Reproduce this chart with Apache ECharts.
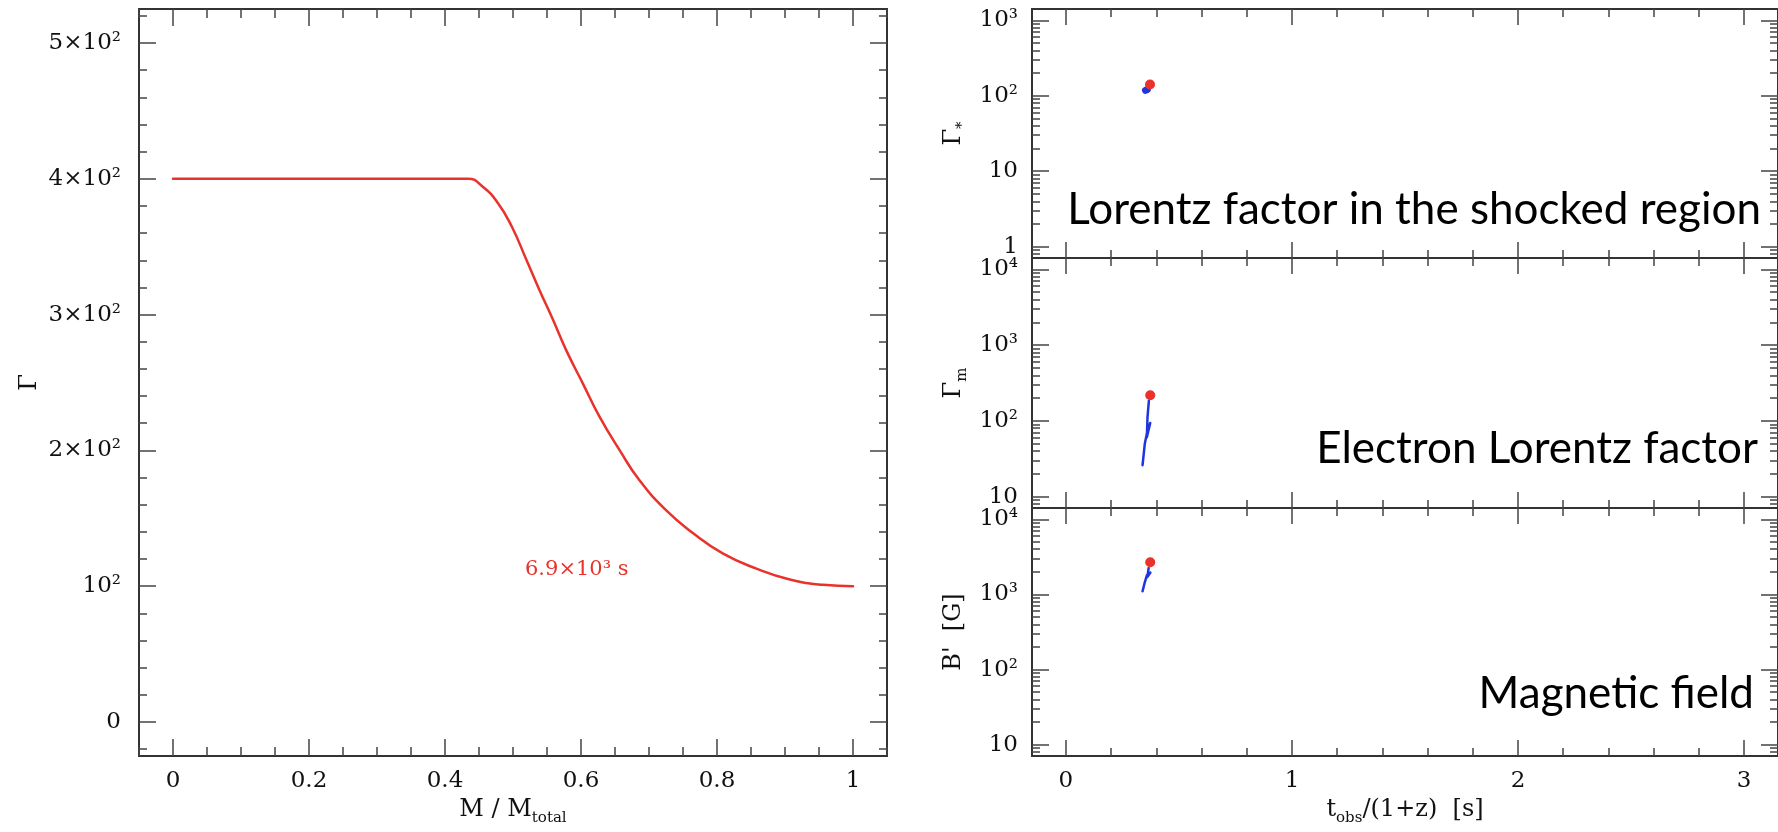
<!DOCTYPE html>
<html><head><meta charset="utf-8">
<script src="https://cdn.jsdelivr.net/npm/echarts@6/dist/echarts.min.js"></script>
<style>html,body{margin:0;padding:0;background:#fff}#c{width:1778px;height:832px}</style>
</head><body><div id="c"></div>
<script>
// ---------------- data ----------------
// Left panel: Lorentz factor of the shell vs mass coordinate
const massFrac  = [0, 0.42, 0.434, 0.456, 0.478, 0.498, 0.520, 0.539, 0.559, 0.578, 0.603, 0.627, 0.657, 0.686, 0.725, 0.765, 0.809, 0.858, 0.907, 0.956, 1.0];
const gammaVals = [400, 400, 400, 394, 382, 365, 340, 318, 296, 274, 249, 225, 200, 178, 156, 139, 124, 113, 105, 101, 100];
const leftXTicks  = [0, 0.2, 0.4, 0.6, 0.8, 1];
const leftXLabels = ['0', '0.2', '0.4', '0.6', '0.8', '1'];
const leftYTicks  = [0, 100, 200, 300, 400, 500];
const leftYLabels = ['0', '10²', '2×10²', '3×10²', '4×10²', '5×10²'];
const leftNote = '6.9×10³ s';

// Right panels: time axis
const tTicks  = [0, 1, 2, 3];
const tLabels = ['0', '1', '2', '3'];

// Panel 1: Lorentz factor in the shocked region
const shockTicks  = [1, 10, 100, 1000];
const shockLabels = ['1', '10', '10²', '10³'];
const shockT      = [0.352, 0.356, 0.360, 0.357, 0.354];
const shockGamma  = [118, 124, 121, 117, 121];
const shockEndT   = [0.372];
const shockEndG   = [141];

// Panel 2: electron Lorentz factor
const elecTicks  = [10, 100, 1000, 10000];
const elecLabels = ['10', '10²', '10³', '10⁴'];
const elecT      = [0.339, 0.349, 0.361, 0.373, 0.358, 0.361, 0.367];
const elecGamma  = [26, 50, 75, 94, 61, 113, 184];
const elecEndT   = [0.373];
const elecEndG   = [218];

// Panel 3: magnetic field
const fieldTicks  = [10, 100, 1000, 10000];
const fieldLabels = ['10', '10²', '10³', '10⁴'];
const fieldT      = [0.339, 0.349, 0.358, 0.374, 0.360, 0.366];
const fieldB      = [1100, 1450, 1800, 1950, 1700, 2250];
const fieldEndT   = [0.373];
const fieldEndB   = [2680];

const panelTexts = ['Lorentz factor in the shocked region', 'Electron Lorentz factor', 'Magnetic field'];

// ---------------- helpers ----------------
const SERIF = 'DejaVu Serif';
const AX = '#333';
const TXT = '#111';
function zip(a, b) { return a.map((v, i) => [v, b[i]]); }
function labelFor(ticks, labels) {
  return function (v) {
    for (let i = 0; i < ticks.length; i++) {
      if (Math.abs(ticks[i] - v) <= 1e-6 * Math.max(1, Math.abs(ticks[i]))) return labels[i];
    }
    return '';
  };
}
function linMinor(min, max, step, majors) {
  const out = [];
  const n0 = Math.ceil(min / step - 1e-9), n1 = Math.floor(max / step + 1e-9);
  for (let n = n0; n <= n1; n++) {
    const v = +(n * step).toFixed(6);
    if (!majors.some(m => Math.abs(m - v) < 1e-9)) out.push(v);
  }
  return out;
}
function logMinor(min, max) {
  const out = [];
  for (let e = Math.floor(Math.log10(min)) - 1; e <= Math.ceil(Math.log10(max)); e++) {
    for (let k = 2; k <= 9; k++) {
      const v = k * Math.pow(10, e);
      if (v > min && v < max) out.push(v);
    }
  }
  return out;
}
// build 4 axes for one dimension of one grid
function axisSet(dim, grid, cfg) {
  const pos = dim === 'x' ? ['bottom', 'top'] : ['left', 'right'];
  const base = {
    gridIndex: grid, type: cfg.type, min: cfg.min, max: cfg.max, silent: true,
    axisLine: { show: false, onZero: false }, splitLine: { show: false }, minorTick: { show: false }
  };
  if (cfg.type === 'log') base.logBase = 10;
  const list = [];
  pos.forEach((p, pi) => {
    [true, false].forEach(major => {
      const a = Object.assign({}, base, { position: p });
      a.axisTick = { show: true, inside: true, length: major ? cfg.majLen : cfg.minLen,
        customValues: major ? cfg.majors : cfg.minors, lineStyle: { color: '#444', width: 1.5 } };
      const showLab = major && pi === 0 && cfg.labels;
      a.axisLabel = showLab ? {
        show: true, customValues: cfg.majors, formatter: labelFor(cfg.majors, cfg.labels),
        fontFamily: SERIF, fontSize: 23, color: TXT, margin: cfg.labMargin
      } : { show: false };
      if (major && pi === 0 && cfg.name) {
        a.name = cfg.name; a.nameLocation = 'middle'; a.nameGap = cfg.nameGap;
        a.nameRotate = dim === 'y' ? 90 : 0;
        a.nameTextStyle = {
          fontFamily: SERIF, fontSize: 24, color: TXT,
          rich: {
            b: { fontFamily: SERIF, fontSize: 24, color: TXT, lineHeight: 32, verticalAlign: 'middle' },
            s: { fontFamily: SERIF, fontSize: 15, color: TXT, lineHeight: 32, verticalAlign: 'bottom' }
          }
        };
      }
      list.push(a);
    });
  });
  return list;
}

// ---------------- layout ----------------
const grids = [
  { left: 139, top: 9, width: 748, height: 747 },
  { left: 1032, top: 9, width: 746, height: 249 },
  { left: 1032, top: 258, width: 746, height: 250 },
  { left: 1032, top: 508, width: 746, height: 248 }
].map(g => Object.assign(g, { show: true, borderColor: AX, borderWidth: 2, backgroundColor: 'transparent', outerBoundsMode: 'none' }));

const xAxes = [], yAxes = [];
const xMain = [], yMain = [];
// left panel
xMain.push(xAxes.length);
xAxes.push(...axisSet('x', 0, { type: 'value', min: -0.05, max: 1.05, majors: leftXTicks, labels: leftXLabels,
  minors: linMinor(-0.05, 1.05, 0.05, leftXTicks), majLen: 17, minLen: 9, labMargin: 14,
  name: '{b|M / M}{s|total}', nameGap: 38 }));
yMain.push(yAxes.length);
yAxes.push(...axisSet('y', 0, { type: 'value', min: -25, max: 525, majors: leftYTicks, labels: leftYLabels,
  minors: linMinor(-25, 525, 20, leftYTicks), majLen: 17, minLen: 8, labMargin: 18,
  name: 'Γ', nameGap: 97 }));
// right panels
const tMin = -0.15, tMax = 3.15;
const rightCfg = [
  { ticks: shockTicks, labels: shockLabels, min: Math.pow(10, -0.15), max: Math.pow(10, 3.15), name: '{b|Γ}{s|*}' },
  { ticks: elecTicks, labels: elecLabels, min: Math.pow(10, 0.85), max: Math.pow(10, 4.15), name: '{b|Γ}{s|m}' },
  { ticks: fieldTicks, labels: fieldLabels, min: Math.pow(10, 0.85), max: Math.pow(10, 4.15), name: "{b|B'  [G]}" }
];
rightCfg.forEach((c, i) => {
  const g = i + 1;
  xMain.push(xAxes.length);
  xAxes.push(...axisSet('x', g, { type: 'value', min: tMin, max: tMax, majors: tTicks,
    labels: g === 3 ? tLabels : null, minors: linMinor(tMin, tMax, 0.2, tTicks), majLen: 16, minLen: 8, labMargin: 14,
    name: g === 3 ? '{b|t}{s|obs}{b|/(1+z)  [s]}' : null, nameGap: 38 }));
  yMain.push(yAxes.length);
  yAxes.push(...axisSet('y', g, { type: 'log', min: c.min, max: c.max, majors: c.ticks, labels: c.labels,
    minors: logMinor(c.min, c.max), majLen: 17, minLen: 8, labMargin: 14, name: c.name, nameGap: 62 }));
});

const RED = '#e8322b', BLUE = '#1f35e0';
function lineSeries(g, data, color, width) {
  return { type: 'line', xAxisIndex: xMain[g], yAxisIndex: yMain[g], data, showSymbol: false, symbol: 'none',
    lineStyle: { color, width, cap: 'round', join: 'round' }, silent: true, animation: false, z: 3 };
}
function dotSeries(g, data) {
  return { type: 'scatter', xAxisIndex: xMain[g], yAxisIndex: yMain[g], data, symbol: 'circle', symbolSize: 10,
    itemStyle: { color: RED, opacity: 1 }, silent: true, animation: false, z: 4 };
}
const series = [
  Object.assign(lineSeries(0, zip(massFrac, gammaVals), RED, 2.5), { smooth: 0.5 }),
  lineSeries(1, zip(shockT, shockGamma), BLUE, 7),
  dotSeries(1, zip(shockEndT, shockEndG)),
  lineSeries(2, zip(elecT, elecGamma), BLUE, 2.5),
  dotSeries(2, zip(elecEndT, elecEndG)),
  lineSeries(3, zip(fieldT, fieldB), BLUE, 2.5),
  dotSeries(3, zip(fieldEndT, fieldEndB))
];

const chart = echarts.init(document.getElementById('c'), null, { renderer: 'canvas' });
chart.setOption({
  backgroundColor: '#fff',
  animation: false,
  grid: grids,
  xAxis: xAxes,
  yAxis: yAxes,
  series: series,
  graphic: [
    { type: 'text', x: 525, y: 570, silent: true, style: { text: leftNote, fill: RED, fontFamily: SERIF, fontSize: 21, align: 'left', verticalAlign: 'middle' } },
    { type: 'text', x: 1761, y: 210, silent: true, style: { text: panelTexts[0], fill: '#000', fontFamily: 'Lato', fontSize: 44, align: 'right', verticalAlign: 'middle' } },
    { type: 'text', x: 1758, y: 449, silent: true, style: { text: panelTexts[1], fill: '#000', fontFamily: 'Lato', fontSize: 44, align: 'right', verticalAlign: 'middle' } },
    { type: 'text', x: 1754, y: 694, silent: true, style: { text: panelTexts[2], fill: '#000', fontFamily: 'Lato', fontSize: 44, align: 'right', verticalAlign: 'middle' } }
  ]
});
</script>
</body></html>
